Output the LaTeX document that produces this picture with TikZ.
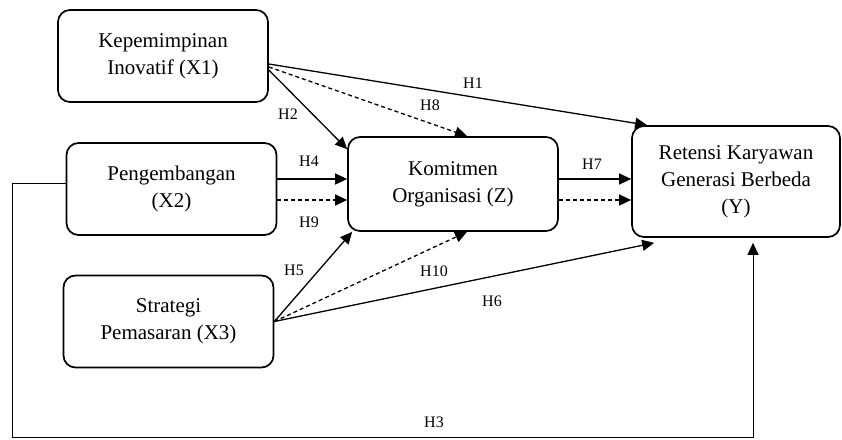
\documentclass[tikz,border=0pt]{standalone}
\usepackage{fontspec}
\setmainfont{Liberation Serif}
\usepackage{tikz}
\usetikzlibrary{%
  arrows.meta%
  ,calc%
  ,positioning%
}
\tikzset{
  varbox/.style={draw,rounded corners=12pt,line width=1.7pt,align=center,
    minimum width=210pt,minimum height=92pt,inner sep=0pt,
    font=\fontsize{21}{27}\selectfont},
  arr/.style={line width=1.3pt,-{Triangle[length=12pt,width=11pt]}},
  darr/.style={arr,dashed,dash pattern=on 4pt off 3pt},
  hlabel/.style={inner sep=1pt,font=\fontsize{16}{18}\selectfont}
}

\begin{document}
\begin{tikzpicture}[x=1pt,y=-1pt]
      \useasboundingbox (0,0) rectangle (842,439);
      \node[varbox] (x1) at (163,56) {Kepemimpinan\\Inovatif (X1)};
      \node[varbox] (x2) at (171.5,189) {Pengembangan\\(X2)};
      \node[varbox] (x3) at (168.5,321.5) {Strategi\\Pemasaran (X3)};
      \node[varbox,minimum height=94pt] (z) at (453,184) {Komitmen\\Organisasi (Z)};
      \node[varbox,minimum width=208pt,minimum height=111pt] (y) at (736,181.5)
        {Retensi Karyawan\\Generasi Berbeda\\(Y)};
      %% paths from X1
      \draw[arr] ([yshift=-8pt]x1.east) -- ([xshift=16pt]y.north west);
      \draw[darr] ([yshift=-11pt]x1.east) -- ([xshift=14pt]z.north);
      \draw[arr] ([yshift=-14pt]x1.east) -- ([yshift=-13pt]z.north west);
      %% paths from X2
      \draw[arr] ([yshift=10pt]x2.east) -- ([yshift=10pt]x2.east -| z.west);
      \draw[darr] ([yshift=-11pt]x2.east) -- ([yshift=-11pt]x2.east -| z.west);
      %% paths from X3
      \draw[arr] (x3.east) -- ([xshift=5pt]z.south west);
      \draw[darr] (x3.east) -- ([xshift=14pt]z.south);
      \draw[arr] (x3.east) -- ([xshift=23pt,yshift=-5pt]y.south west);
      %% Z to Y
      \draw[arr] ([yshift=5pt]z.east) -- ([yshift=5pt]z.east -| y.west);
      \draw[darr] ([yshift=-16pt]z.east) -- ([yshift=-16pt]z.east -| y.west);
      %% X2 to Y, round the bottom
      \coordinate (h3a) at (12,437);
      \coordinate (h3b) at (753,437);
      \draw[arr,line width=1pt] ([yshift=6pt]x2.west) -| (h3a) -- (h3b)
        -- ([yshift=-5pt]y.south -| h3b);
      %% labels
      \node[hlabel] (l1) at (473,83) {H1};
      \node[hlabel] (l2) at (288,114) {H2};
      \node[hlabel] (l3) at (434,422) {H3};
      \node[hlabel] (l4) at (309,161) {H4};
      \node[hlabel] (l5) at (294,270) {H5};
      \node[hlabel] (l6) at (492,301) {H6};
      \node[hlabel] (l7) at (592,164) {H7};
      \node[hlabel] (l8) at (430,105) {H8};
      \node[hlabel] (l9) at (309,222) {H9};
      \node[hlabel] (l10) at (434,271) {H10};
    \end{tikzpicture}
\end{document}
